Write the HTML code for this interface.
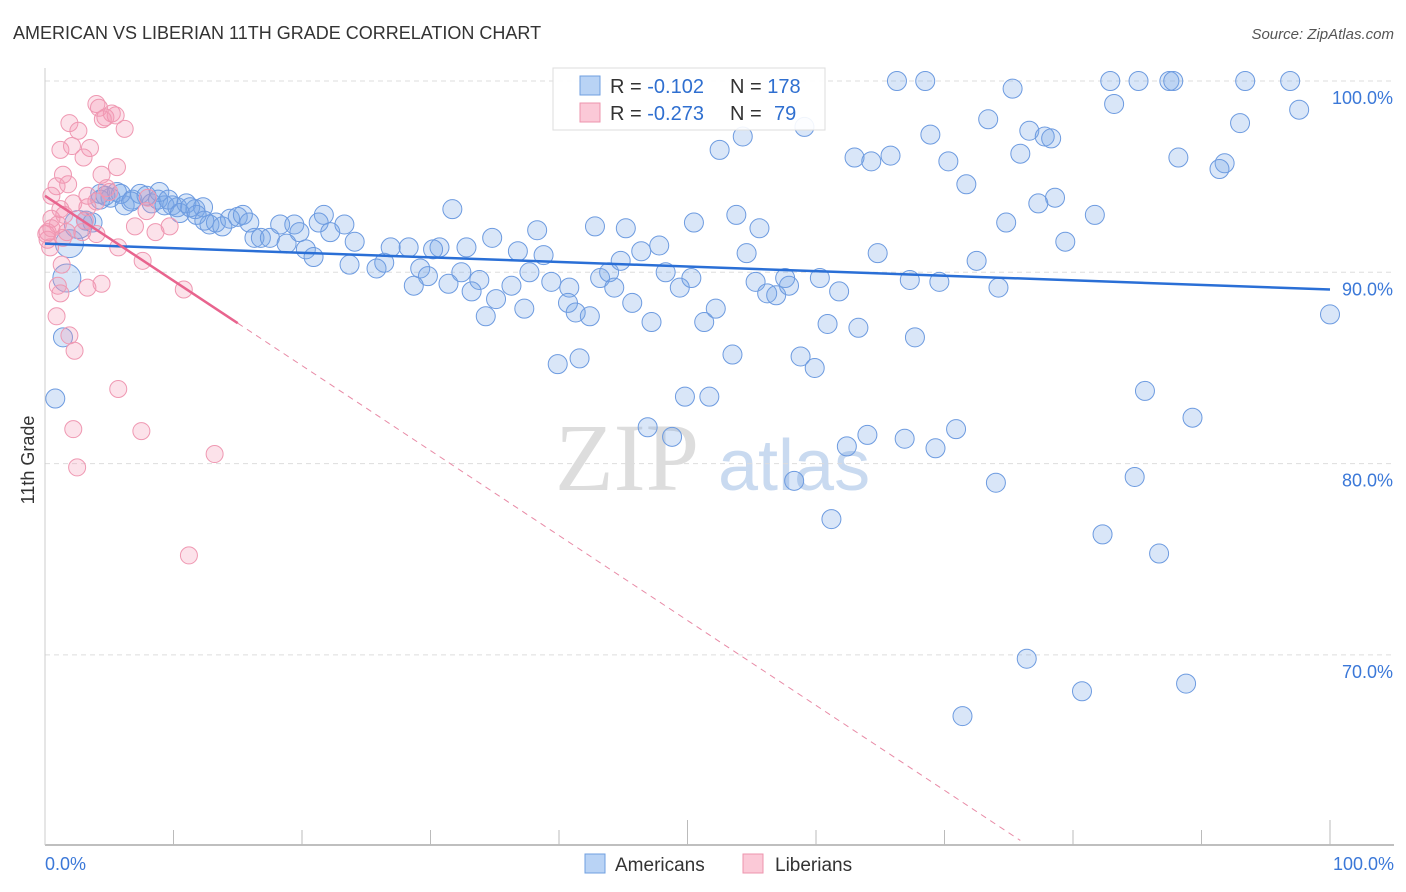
<!DOCTYPE html>
<html><head><meta charset="utf-8">
<style>
body{margin:0;background:#fff;font-family:"Liberation Sans",sans-serif;}
#wrap{position:relative;width:1406px;height:892px;overflow:hidden;}
</style></head>
<body>
<div id="wrap">
<svg id="svg" width="1406" height="892" xmlns="http://www.w3.org/2000/svg">
<text x="13" y="39" font-size="18" fill="#333">AMERICAN VS LIBERIAN 11TH GRADE CORRELATION CHART</text>
<text x="1394" y="39" font-size="15" fill="#555" font-style="italic" text-anchor="end">Source: ZipAtlas.com</text>
<text x="34" y="460" font-size="18" fill="#333" text-anchor="middle" transform="rotate(-90 34 460)">11th Grade</text>
<text x="555" y="490" font-size="96" fill="#ddd" font-family="Liberation Serif,serif">ZIP</text>
<text x="718" y="490" font-size="72" fill="#c9daf0">atlas</text>
<g id="grid"></g><g id="blue"></g><g id="pink"></g><g id="trend"></g>
<g>
<rect x="553" y="68" width="272" height="62" fill="#fff" stroke="#ddd" fill-opacity="0.9"/>
<rect x="580" y="76" width="20" height="19" fill="#b9d3f5" stroke="#6f9fe0"/>
<rect x="580" y="103" width="20" height="19" fill="#fbc9d7" stroke="#ee94ae"/>
<text x="610" y="93" font-size="20" fill="#333">R = <tspan fill="#2f6fd0">-0.102</tspan><tspan x="730">N = </tspan><tspan fill="#2f6fd0">178</tspan></text>
<text x="610" y="120" font-size="20" fill="#333">R = <tspan fill="#2f6fd0">-0.273</tspan><tspan x="730">N = </tspan><tspan fill="#2f6fd0" x="774">79</tspan></text>
</g>
<g>
<rect x="585" y="854" width="20" height="19" fill="#b9d3f5" stroke="#6f9fe0"/>
<text x="615" y="871" font-size="19" fill="#333">Americans</text>
<rect x="743" y="854" width="20" height="19" fill="#fbc9d7" stroke="#ee94ae"/>
<text x="775" y="871" font-size="19" fill="#333">Liberians</text>
</g>
<text x="45" y="870" font-size="18" fill="#3b78d8">0.0%</text>
<text x="1394" y="870" font-size="18" fill="#3b78d8" text-anchor="end">100.0%</text>
</svg>
</div>
<script>
const blueX=[66.3,68.5,82.9,85.1,87.5,87.8,93.4,96.9,75.3,83.2,97.6,59.1,73.4,93.0,68.9,76.6,77.8,78.3,52.5,54.3,63.0,64.3,65.8,70.3,75.9,88.2,91.8,91.4,71.7,78.6,77.3,81.7,74.8,79.4,53.8,55.6,50.5,64.8,72.5,54.6,42.8,45.2,38.3,34.8,30.7,32.8,36.8,38.8,23.7,25.8,26.4,26.9,28.3,30.2,24.1,21.7,21.3,22.2,23.3,31.7,29.2,29.8,32.4,33.8,28.7,31.4,33.2,35.1,36.3,34.3,37.3,37.7,39.4,40.8,40.7,41.3,42.4,43.2,43.9,44.3,44.8,46.4,47.8,45.7,47.2,48.3,49.4,50.3,51.3,52.2,53.5,55.3,56.2,56.9,57.6,57.9,60.3,61.8,60.9,63.3,67.3,69.6,74.2,67.7,58.8,59.9,39.9,41.6,49.8,51.7,46.9,48.8,62.4,64.0,66.9,69.3,70.9,58.3,74.0,61.2,85.6,89.3,84.8,82.3,86.7,76.4,80.7,88.8,71.4,100.0,0.8,1.4,1.7,1.9,2.6,3.2,3.7,4.3,5.1,5.6,6.2,6.8,7.4,7.9,8.3,8.8,9.3,9.9,10.3,11.0,11.7,12.3,12.8,13.3,13.8,14.4,15.0,15.4,15.9,16.3,16.8,17.5,18.3,18.8,19.4,19.8,20.3,20.9,4.3,4.7,5.9,6.7,8.9,9.6,10.5,11.3,11.8,12.4];
const blueY=[100,100,100,100,100,100,100,100,99.6,98.8,98.5,97.6,98.0,97.8,97.2,97.4,97.1,97.0,96.4,97.1,96.0,95.8,96.1,95.8,96.2,96.0,95.7,95.4,94.6,93.9,93.6,93.0,92.6,91.6,93.0,92.3,92.6,91.0,90.6,91.0,92.4,92.3,92.2,91.8,91.3,91.3,91.1,90.9,90.4,90.2,90.5,91.3,91.3,91.2,91.6,93.0,92.6,92.1,92.5,93.3,90.2,89.8,90.0,89.6,89.3,89.4,89.0,88.6,89.3,87.7,88.1,90.0,89.5,89.2,88.4,87.9,87.7,89.7,90.0,89.2,90.6,91.1,91.4,88.4,87.4,90.0,89.2,89.7,87.4,88.1,85.7,89.5,88.9,88.8,89.7,89.3,89.7,89.0,87.3,87.1,89.6,89.5,89.2,86.6,85.6,85.0,85.2,85.5,83.5,83.5,81.9,81.4,80.9,81.5,81.3,80.8,81.8,79.1,79.0,77.1,83.8,82.4,79.3,76.3,75.3,69.8,68.1,68.5,66.8,87.8,83.4,86.6,89.7,91.5,92.5,92.7,92.6,94.1,93.9,94.2,93.5,93.8,94.1,94.0,93.6,93.8,93.5,93.5,93.4,93.6,93.3,93.4,92.5,92.6,92.4,92.8,92.9,93.0,92.6,91.8,91.8,91.8,92.5,91.5,92.5,92.1,91.2,90.8,93.8,94.0,94.1,93.7,94.2,93.8,93.1,93.4,93.0,92.7];
const pinkX=[4.0,4.2,5.2,4.7,5.5,4.5,1.9,2.6,6.2,1.2,2.1,3.5,3.0,5.6,1.4,1.8,0.9,0.5,4.4,4.8,8.0,4.0,1.2,2.2,3.3,0.5,1.0,0.2,0.2,0.4,1.7,2.9,4.0,5.7,7.0,8.6,9.7,7.6,1.3,4.4,1.0,1.2,3.3,10.8,0.9,1.9,2.3,5.7,2.2,7.5,13.2,2.5,11.2,0.1,0.5,1.4,3.1,3.3,5.0,1.5,7.9];
const pinkY=[98.8,98.6,98.3,98.1,98.2,98.0,97.8,97.4,97.5,96.4,96.6,96.5,96.0,95.5,95.1,94.6,94.5,94.0,95.1,94.4,93.9,93.7,93.3,93.6,93.4,92.8,92.5,92.1,91.7,91.3,92.1,92.1,92.0,91.3,92.4,92.1,92.4,90.6,90.4,89.4,89.3,88.9,89.2,89.1,87.7,86.7,85.9,83.9,81.8,81.7,80.5,79.8,75.2,92.0,92.3,91.8,92.7,94.0,94.2,93.0,93.2];
const bigBlue=[132,133,134];
const blueTrend=[91.5,89.1];
const pinkTrend=[94.0,-0.444];
const yTicks=[100,90,80,70];
const NS="http://www.w3.org/2000/svg";
const X0=45,X1=1330,Y100=81,PX10=191.3;
const sx=v=>X0+(X1-X0)*v/100;
const sy=v=>Y100+(100-v)*PX10/10;
function mk(t,a,p){const e=document.createElementNS(NS,t);for(const k in a)e.setAttribute(k,a[k]);p.appendChild(e);return e;}
const grid=document.getElementById('grid');
yTicks.forEach(v=>{
 const l=mk('line',{x1:45,x2:1394,y1:sy(v),y2:sy(v),stroke:'#ddd','stroke-dasharray':'5,4'},grid);
 
 
 const t=mk('text',{x:1393,y:sy(v)+23,'font-size':18,fill:'#3b78d8','text-anchor':'end'},grid);
 t.textContent=v.toFixed(1)+'%';
 
 
});
const ax=mk('line',{x1:45,x2:1394,y1:845,y2:845,stroke:'#aaa','stroke-width':1.5},grid);


const ay=mk('line',{x1:45,x2:45,y1:68,y2:845,stroke:'#ccc'},grid);


for(let i=1;i<=10;i++){
 const tk=mk('line',{x1:sx(i*10),x2:sx(i*10),y1:(i%5==0?820:830),y2:845,stroke:'#bbb'},grid);
 
 
}
const bg=document.getElementById('blue');
blueX.forEach((x,i)=>{
 const c=mk('circle',{cx:sx(x),cy:sy(blueY[i]),r:bigBlue.includes(i)?14:9.5,fill:'rgba(120,165,230,0.28)',stroke:'#6d9be0','stroke-width':1},bg);
 
 
});
const pg=document.getElementById('pink');
pinkX.forEach((x,i)=>{
 const c=mk('circle',{cx:sx(x),cy:sy(pinkY[i]),r:8.5,fill:'rgba(245,150,178,0.28)',stroke:'#ef98b2','stroke-width':1},pg);
 
 
});
const tg=document.getElementById('trend');
const bt=mk('line',{x1:sx(0),y1:sy(blueTrend[0]),x2:sx(100),y2:sy(blueTrend[1]),stroke:'#2a6fd6','stroke-width':2.5},tg);


const pf=x=>pinkTrend[0]+pinkTrend[1]*x;
const ps=mk('line',{x1:sx(0),y1:sy(pf(0)),x2:sx(15),y2:sy(pf(15)),stroke:'#e8648e','stroke-width':2.5},tg);


const pd=mk('line',{x1:sx(15),y1:sy(pf(15)),x2:sx(75.9),y2:sy(pf(75.9)),stroke:'#e88aa6','stroke-width':1,'stroke-dasharray':'6,5'},tg);


</script>
</body></html>
